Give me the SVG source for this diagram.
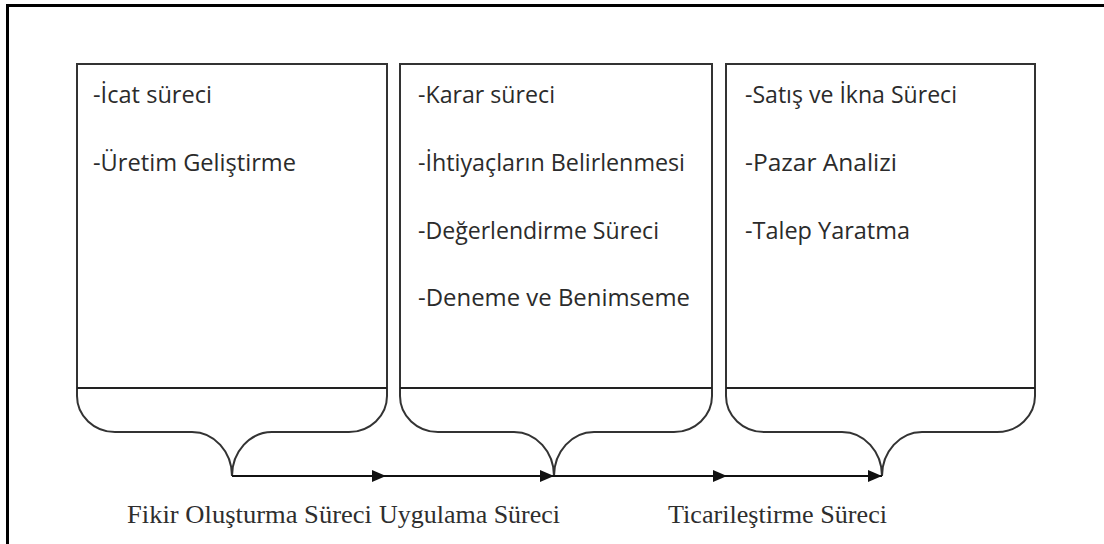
<svg xmlns="http://www.w3.org/2000/svg" width="1104" height="544" viewBox="0 0 1104 544">
  <defs>
    <marker id="arrow" viewBox="0 0 14 12" refX="14" refY="6" markerWidth="14" markerHeight="12" markerUnits="userSpaceOnUse" orient="auto">
      <path d="M0,0 L14,6 L0,12 Z" fill="#111"/>
    </marker>
  </defs>
  <style>
    .box { fill: none; stroke: #333; stroke-width: 2; }
    .divider { stroke: #222; stroke-width: 2; }
    .item { font-family: "Open Sans", "Liberation Sans", sans-serif; font-size: 23px; fill: #2b2b2b; }
    .phase { font-family: "Liberation Serif", "Times New Roman", serif; font-size: 26px; fill: #2e2e2e; }
    .flow { stroke: #111; stroke-width: 2; fill: none; marker-end: url(#arrow); }
    .frame { stroke: #000; stroke-width: 3; fill: none; }
  </style>

  <rect width="1104" height="544" fill="#fff"/>
  <!-- outer frame -->
  <path class="frame" d="M1104,5.5 H7.5 V544"/>

  <!-- stage 1 -->
  <g id="stage-fikir">
    <path class="box" d="M77,64 V396 A38 36 0 0 0 115,432 H192 A40 44 0 0 1 232,476 A40 44 0 0 1 272,432 H349 A38 36 0 0 0 387,396 V64 Z"/>
    <line class="divider" x1="77" y1="388" x2="387" y2="388"/>
    <text class="item" x="93" y="103" textLength="119" lengthAdjust="spacingAndGlyphs">-İcat süreci</text>
    <text class="item" x="93" y="171" textLength="203" lengthAdjust="spacingAndGlyphs">-Üretim Geliştirme</text>
  </g>

  <!-- stage 2 -->
  <g id="stage-uygulama">
    <path class="box" d="M400,64 V396 A38 36 0 0 0 438,432 H514 A40 44 0 0 1 554,476 A40 44 0 0 1 594,432 H674 A38 36 0 0 0 712,396 V64 Z"/>
    <line class="divider" x1="400" y1="388" x2="712" y2="388"/>
    <text class="item" x="418" y="103" textLength="137" lengthAdjust="spacingAndGlyphs">-Karar süreci</text>
    <text class="item" x="418" y="171" textLength="267" lengthAdjust="spacingAndGlyphs">-İhtiyaçların Belirlenmesi</text>
    <text class="item" x="418" y="239" textLength="241" lengthAdjust="spacingAndGlyphs">-Değerlendirme Süreci</text>
    <text class="item" x="418" y="306" textLength="272" lengthAdjust="spacingAndGlyphs">-Deneme ve Benimseme</text>
  </g>

  <!-- stage 3 -->
  <g id="stage-ticari">
    <path class="box" d="M726,64 V396 A38 36 0 0 0 764,432 H842 A40 44 0 0 1 882,476 A40 44 0 0 1 922,432 H997 A38 36 0 0 0 1035,396 V64 Z"/>
    <line class="divider" x1="726" y1="388" x2="1035" y2="388"/>
    <text class="item" x="745" y="103" textLength="212" lengthAdjust="spacingAndGlyphs">-Satış ve İkna Süreci</text>
    <text class="item" x="745" y="171" textLength="152" lengthAdjust="spacingAndGlyphs">-Pazar Analizi</text>
    <text class="item" x="745" y="239" textLength="165" lengthAdjust="spacingAndGlyphs">-Talep Yaratma</text>
  </g>

  <!-- flow arrows along the timeline -->
  <g id="connectors">
    <line class="flow" x1="232" y1="476" x2="386" y2="476"/>
    <line class="flow" x1="386" y1="476" x2="554" y2="476"/>
    <line class="flow" x1="554" y1="476" x2="727" y2="476"/>
    <line class="flow" x1="727" y1="476" x2="882" y2="476"/>
  </g>

  <!-- phase labels -->
  <g id="labels">
    <text class="phase" x="127" y="523" textLength="245" lengthAdjust="spacingAndGlyphs">Fikir Oluşturma Süreci</text>
    <text class="phase" x="379" y="523" textLength="181" lengthAdjust="spacingAndGlyphs">Uygulama Süreci</text>
    <text class="phase" x="668" y="523" textLength="219" lengthAdjust="spacingAndGlyphs">Ticarileştirme Süreci</text>
  </g>
</svg>
